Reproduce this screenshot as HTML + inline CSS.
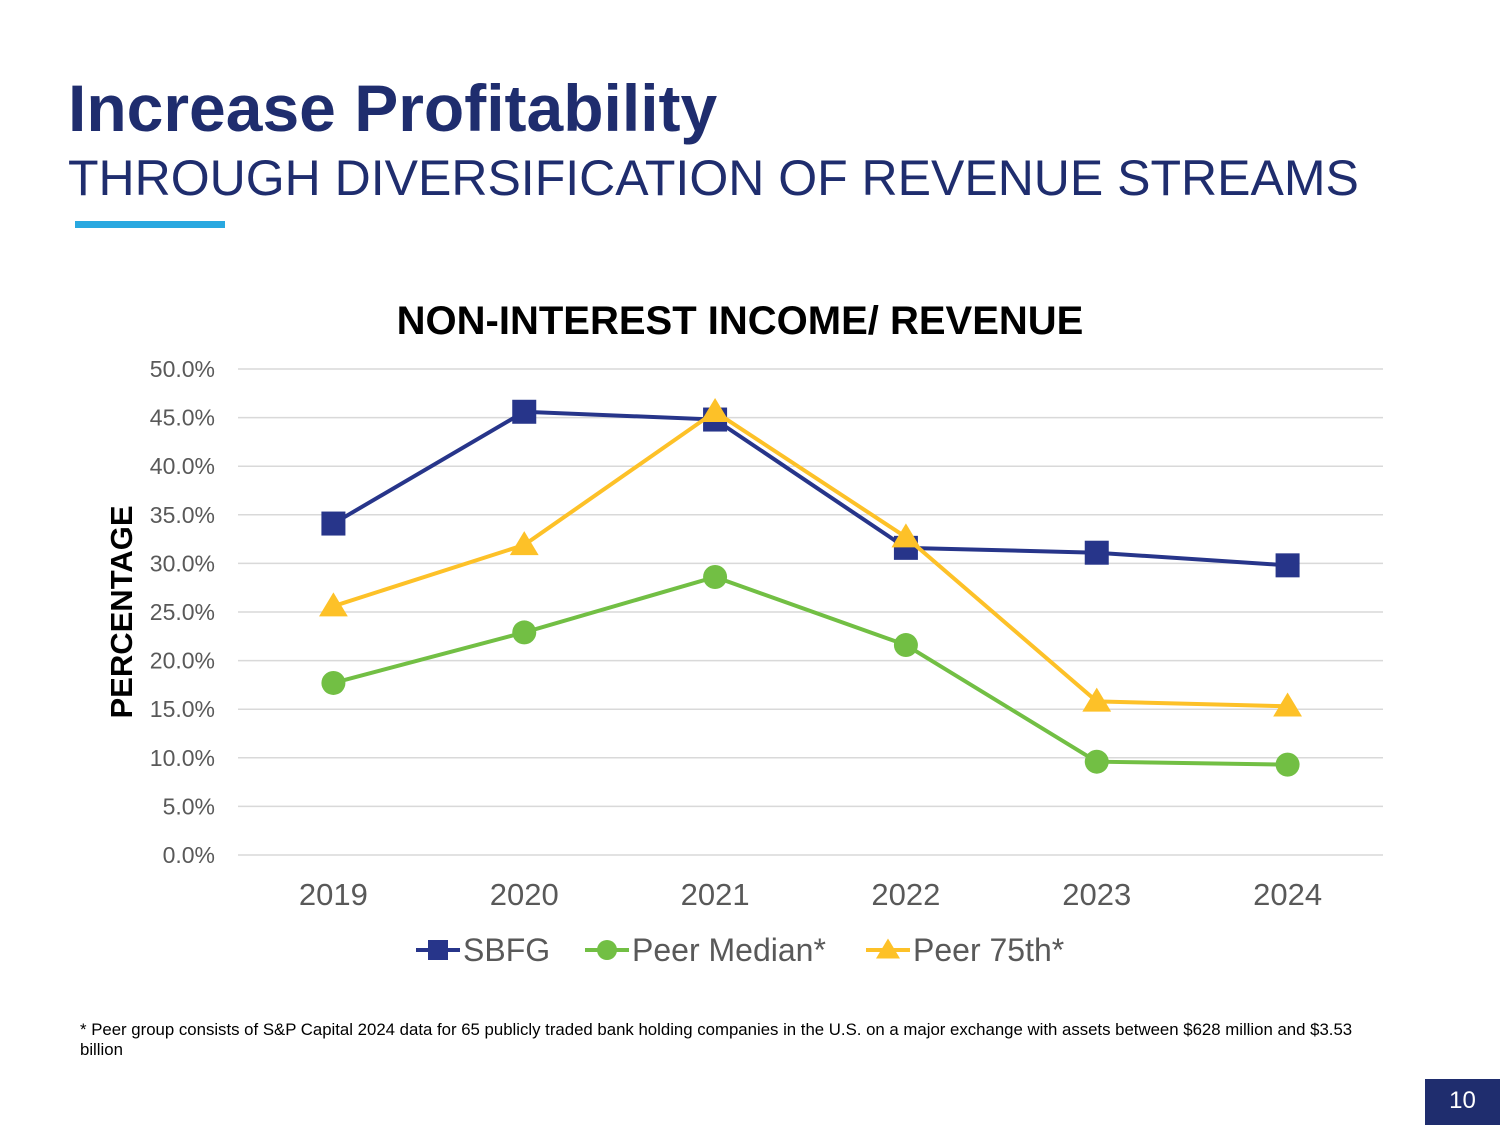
<!DOCTYPE html>
<html><head><meta charset="utf-8"><style>
body{margin:0;width:1500px;height:1125px;background:#fff;font-family:"Liberation Sans",Arial,sans-serif;position:relative;overflow:hidden}
.t1{position:absolute;left:68px;top:70px;font-size:66px;font-weight:bold;color:#1f2d6e}
.t2{position:absolute;left:68px;top:149px;font-size:50px;color:#1f2d6e}
.bar{position:absolute;left:75px;top:221px;width:150px;height:7px;background:#29a8e0}
.foot{position:absolute;left:80px;top:1020px;font-size:16.8px;color:#000;width:1290px;line-height:20px}
.pg{position:absolute;left:1425px;top:1079px;width:75px;height:46px;background:#1f2d6e;color:#fff;font-size:24px;text-align:center;line-height:44px}
</style></head><body>
<div class="t1">Increase Profitability</div>
<div class="t2">THROUGH DIVERSIFICATION OF REVENUE STREAMS</div>
<div class="bar"></div>
<svg id="chart" width="1500" height="1125" style="position:absolute;left:0;top:0">
<text x="740" y="334" text-anchor="middle" font-size="40" font-weight="bold">NON-INTEREST INCOME/ REVENUE</text>
<text transform="translate(132,612) rotate(-90)" text-anchor="middle" font-size="31" font-weight="bold">PERCENTAGE</text>
</svg>
<div class="foot">* Peer group consists of S&amp;P Capital 2024 data for 65 publicly traded bank holding companies in the U.S. on a major exchange with assets between $628 million and $3.53 billion</div>
<div class="pg">10</div>
<script>
const categories=["2019","2020","2021","2022","2023","2024"];
const sbfg=[34.1,45.6,44.8,31.6,31.1,29.8];
const peerMedian=[17.7,22.9,28.6,21.6,9.6,9.3];
const peer75=[25.6,31.9,45.6,32.7,15.8,15.3];
const yTicks=[0,5,10,15,20,25,30,35,40,45,50];
const NS="http://www.w3.org/2000/svg";
const svg=document.getElementById("chart");
const L=238,R=1383,T=369,B=855;
const y=v=>B-(v/50)*(B-T);
const x=i=>L+(R-L)/categories.length*(i+0.5);
function mk(tag,a){const e=document.createElementNS(NS,tag);for(const k in a)e.setAttribute(k,a[k]);svg.appendChild(e);return e;}
yTicks.forEach(t=>{
 const g=mk("line",{x1:L,x2:R,y1:y(t),y2:y(t),stroke:"#d9d9d9","stroke-width":1.5});
 
 
 const tx=mk("text",{x:215,y:y(t)+8,"text-anchor":"end","font-size":23,fill:"#595959"});
 tx.textContent=t.toFixed(1)+"%";
 
 
});
categories.forEach((c,i)=>{
 const tx=mk("text",{x:x(i),y:905,"text-anchor":"middle","font-size":31,fill:"#595959"});
 tx.textContent=c;
 
 
});
function marker(type,cx,cy,col,s){
 let e;
 if(type==="sq")e=mk("rect",{x:cx-s,y:cy-s,width:2*s,height:2*s,fill:col});
 else if(type==="ci")e=mk("circle",{cx:cx,cy:cy,r:s,fill:col});
 else e=mk("polygon",{points:`${cx},${cy-s*1.15} ${cx-s*1.2},${cy+s*0.85} ${cx+s*1.2},${cy+s*0.85}`,fill:col});
 return e;
}
const series=[[sbfg,"#27358a","sq","sbfg"],[peerMedian,"#72bf44","ci","peer-median"],[peer75,"#fdc128","tr","peer-75th"]];
series.forEach(([d,col,m,n])=>{
 const p=mk("polyline",{points:d.map((v,i)=>x(i)+","+y(v)).join(" "),fill:"none",stroke:col,"stroke-width":4});
 
 
 d.forEach((v,i)=>{
  const e=marker(m,x(i),y(v),col,12);
  
  
 });
});
const leg=[["SBFG",416,"#27358a","sq","sbfg"],["Peer Median*",585,"#72bf44","ci","peer-median"],["Peer 75th*",866,"#fdc128","tr","peer-75th"]];
leg.forEach(([lab,lx,col,m,n])=>{
 const l=mk("line",{x1:lx,x2:lx+44,y1:950,y2:950,stroke:col,"stroke-width":4});
 
 
 const e=marker(m,lx+22,950,col,10);
 
 
 const t=mk("text",{x:lx+47,y:961,"font-size":32,fill:"#595959"});
 t.textContent=lab;
 
 
});
</script>
</body></html>
